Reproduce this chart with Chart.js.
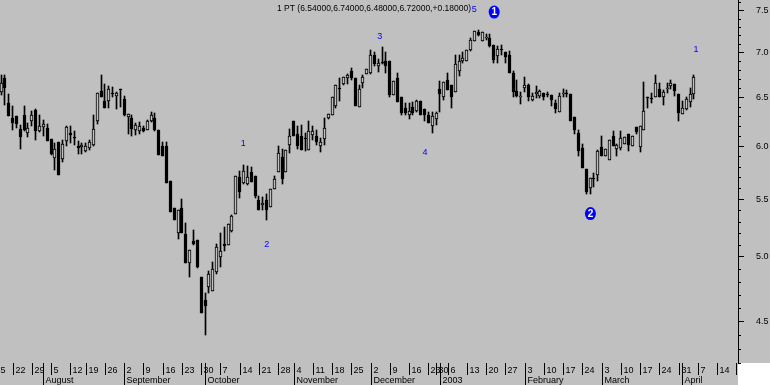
<!DOCTYPE html>
<html>
<head>
<meta charset="utf-8">
<title>PT</title>
<script src="https://cdn.jsdelivr.net/npm/chart.js@4.4.0/dist/chart.umd.min.js"></script>
<style>
  html, body { margin: 0; padding: 0; background: #c0c0c0; }
  canvas { display: block; }
</style>
</head>
<body>
<canvas id="chart" width="770" height="385"></canvas>
<script>
// daily candles, first one is 2002-07-17
const open = [
  6.56, 6.71, 6.44, 6.28, 6.30, 6.17, 6.32, 6.13, 6.25, 6.37,
  6.15, 6.19, 6.18, 6.07, 5.88, 6.04, 5.87, 6.05, 6.13, 6.09,
  6.00, 5.99, 5.95, 5.98, 6.01, 6.25, 6.57, 6.46, 6.46, 6.54,
  6.52, 6.58, 6.48, 6.29, 6.28, 6.16, 6.15, 6.18, 6.16, 6.25,
  6.28, 6.16, 6.00, 6.00, 5.67, 5.42, 5.20, 5.42, 5.19, 4.95,
  5.13, 5.14, 4.84, 4.66, 4.76, 4.73, 4.88, 5.00, 5.11, 5.10,
  5.22, 5.37, 5.70, 5.65, 5.64, 5.75, 5.71, 5.49, 5.45, 5.49,
  5.43, 5.59, 5.75, 5.89, 5.75, 6.01, 6.25, 6.12, 6.10, 6.08,
  5.96, 6.11, 6.10, 6.00, 6.07, 6.28, 6.32, 6.41, 6.60, 6.65,
  6.71, 6.79, 6.71, 6.40, 6.66, 6.76, 6.77, 6.97, 6.85, 6.88,
  6.90, 6.90, 6.53, 6.71, 6.51, 6.39, 6.31, 6.40, 6.36, 6.46,
  6.38, 6.31, 6.20, 6.27, 6.59, 6.50, 6.69, 6.64, 6.56, 6.79,
  6.90, 6.90, 7.03, 7.13, 7.24, 7.13, 7.17, 7.17, 7.09, 6.96,
  7.04, 7.00, 6.97, 6.77, 6.57, 6.50, 6.60, 6.64, 6.47, 6.54,
  6.52, 6.55, 6.54, 6.53, 6.44, 6.35, 6.54, 6.55, 6.54, 6.29,
  6.13, 5.98, 5.78, 5.60, 5.69, 5.72, 5.99, 5.90, 5.86, 6.10,
  5.97, 5.98, 6.02, 6.12, 6.00, 6.19, 5.99, 6.16, 6.49, 6.48,
  6.51, 6.59, 6.51, 6.59, 6.62, 6.65, 6.54, 6.33, 6.38, 6.45,
  6.54
];
const high = [
  6.74, 6.75, 6.54, 6.41, 6.30, 6.21, 6.41, 6.23, 6.36, 6.38,
  6.31, 6.26, 6.22, 6.07, 6.03, 6.04, 6.06, 6.20, 6.20, 6.15,
  6.05, 6.03, 6.03, 6.06, 6.32, 6.55, 6.74, 6.65, 6.62, 6.61,
  6.56, 6.59, 6.52, 6.33, 6.32, 6.23, 6.24, 6.20, 6.26, 6.35,
  6.34, 6.16, 6.04, 6.04, 5.67, 5.42, 5.40, 5.50, 5.29, 5.06,
  5.23, 5.14, 4.84, 4.71, 4.89, 4.96, 5.11, 5.20, 5.25, 5.28,
  5.36, 5.71, 5.76, 5.82, 5.81, 5.80, 5.71, 5.53, 5.52, 5.55,
  5.59, 5.71, 6.00, 5.97, 5.96, 6.17, 6.25, 6.20, 6.21, 6.13,
  6.25, 6.20, 6.16, 6.08, 6.28, 6.33, 6.50, 6.63, 6.71, 6.72,
  6.76, 6.82, 6.71, 6.64, 6.75, 6.81, 7.03, 7.00, 6.92, 7.06,
  7.00, 6.90, 6.68, 6.77, 6.51, 6.44, 6.44, 6.45, 6.47, 6.46,
  6.38, 6.35, 6.35, 6.35, 6.68, 6.67, 6.77, 6.64, 6.97, 6.97,
  7.00, 7.03, 7.17, 7.25, 7.26, 7.24, 7.22, 7.22, 7.09, 7.07,
  7.09, 7.01, 7.02, 6.79, 6.69, 6.56, 6.72, 6.65, 6.55, 6.62,
  6.58, 6.55, 6.56, 6.53, 6.47, 6.55, 6.59, 6.58, 6.54, 6.29,
  6.16, 6.02, 5.78, 5.69, 5.74, 5.96, 6.10, 5.97, 6.06, 6.15,
  6.02, 6.15, 6.09, 6.12, 6.10, 6.19, 6.20, 6.67, 6.51, 6.55,
  6.74, 6.66, 6.58, 6.66, 6.69, 6.65, 6.54, 6.46, 6.50, 6.60,
  6.74
];
const low = [
  6.53, 6.42, 6.30, 6.16, 6.18, 5.97, 6.15, 6.09, 6.20, 6.06,
  6.14, 6.10, 6.05, 5.91, 5.77, 5.72, 5.85, 6.00, 6.03, 6.01,
  5.92, 5.92, 5.94, 5.96, 6.00, 6.22, 6.50, 6.39, 6.39, 6.50,
  6.38, 6.40, 6.30, 6.12, 6.10, 6.11, 6.12, 6.14, 6.16, 6.24,
  6.15, 5.91, 5.90, 5.65, 5.38, 5.31, 5.15, 5.20, 4.95, 4.84,
  5.10, 4.91, 4.56, 4.40, 4.71, 4.73, 4.86, 4.92, 5.05, 5.10,
  5.21, 5.37, 5.51, 5.64, 5.63, 5.66, 5.51, 5.40, 5.40, 5.31,
  5.43, 5.59, 5.75, 5.64, 5.75, 5.93, 6.10, 5.97, 5.96, 5.95,
  5.96, 6.06, 6.01, 5.94, 6.01, 6.27, 6.32, 6.39, 6.46, 6.63,
  6.65, 6.69, 6.41, 6.40, 6.60, 6.76, 6.76, 6.84, 6.78, 6.87,
  6.77, 6.50, 6.53, 6.45, 6.32, 6.32, 6.27, 6.32, 6.35, 6.31,
  6.25, 6.23, 6.13, 6.21, 6.35, 6.47, 6.58, 6.39, 6.56, 6.73,
  6.88, 6.90, 7.02, 7.13, 7.19, 7.13, 7.14, 7.06, 6.88, 6.88,
  6.97, 6.88, 6.77, 6.51, 6.50, 6.43, 6.56, 6.46, 6.46, 6.49,
  6.49, 6.47, 6.51, 6.41, 6.34, 6.35, 6.51, 6.51, 6.25, 6.12,
  5.90, 5.79, 5.55, 5.55, 5.61, 5.67, 5.90, 5.90, 5.86, 6.00,
  5.90, 5.96, 6.02, 5.95, 6.00, 6.12, 5.94, 6.16, 6.39, 6.44,
  6.50, 6.50, 6.42, 6.55, 6.59, 6.52, 6.25, 6.33, 6.37, 6.40,
  6.48
];
const close = [
  6.66, 6.60, 6.30, 6.23, 6.22, 6.09, 6.16, 6.18, 6.32, 6.15,
  6.20, 6.22, 6.05, 5.92, 5.97, 5.72, 6.02, 6.19, 6.11, 6.08,
  5.98, 6.01, 6.00, 6.04, 6.17, 6.55, 6.50, 6.39, 6.59, 6.54,
  6.55, 6.58, 6.31, 6.33, 6.17, 6.21, 6.20, 6.15, 6.25, 6.31,
  6.16, 5.91, 5.90, 5.65, 5.38, 5.31, 5.40, 5.20, 4.95, 5.06,
  5.11, 4.92, 4.56, 4.61, 4.86, 4.90, 5.08, 5.05, 5.09, 5.28,
  5.35, 5.71, 5.56, 5.76, 5.70, 5.66, 5.53, 5.40, 5.46, 5.40,
  5.59, 5.68, 5.93, 5.68, 5.96, 6.10, 6.10, 6.00, 5.96, 6.07,
  6.15, 6.15, 6.04, 6.04, 6.18, 6.33, 6.50, 6.63, 6.59, 6.72,
  6.75, 6.71, 6.41, 6.59, 6.72, 6.81, 6.97, 6.87, 6.88, 6.88,
  6.84, 6.53, 6.68, 6.45, 6.34, 6.34, 6.36, 6.34, 6.46, 6.31,
  6.32, 6.23, 6.30, 6.34, 6.54, 6.67, 6.58, 6.50, 6.87, 6.90,
  6.94, 7.03, 7.15, 7.25, 7.20, 7.24, 7.18, 7.07, 6.91, 7.04,
  7.03, 6.95, 6.77, 6.56, 6.52, 6.52, 6.64, 6.50, 6.52, 6.56,
  6.57, 6.51, 6.53, 6.47, 6.38, 6.52, 6.55, 6.54, 6.25, 6.16,
  5.95, 5.79, 5.56, 5.69, 5.68, 5.95, 5.90, 5.97, 6.06, 6.00,
  6.01, 6.08, 6.09, 6.01, 6.10, 6.14, 6.20, 6.36, 6.49, 6.48,
  6.66, 6.51, 6.56, 6.60, 6.66, 6.57, 6.34, 6.39, 6.48, 6.54,
  6.72
];

// trading calendar (exchange closed on these weekdays)
const holidays = ['2002-08-15', '2002-11-01', '2002-12-24', '2002-12-25', '2002-12-26', '2002-12-31', '2003-01-01'];
const calStart = '2002-07-15';
const calEnd = '2003-04-25';
const firstDay = '2002-07-17';
const monthNames = ['2003', 'February', 'March', 'April', 'May', 'June', 'July', 'August', 'September', 'October', 'November', 'December'];

// y axis
const yMin = 4.20;
const yMax = 7.63;
const yMajor = [4.5, 5.0, 5.5, 6.0, 6.5, 7.0, 7.5];
const yMinor = [4.2, 4.3, 4.4, 4.6, 4.7, 4.8, 4.9, 5.1, 5.2, 5.3, 5.4, 5.6, 5.7, 5.8, 5.9,
  6.1, 6.2, 6.3, 6.4, 6.6, 6.7, 6.8, 6.9, 7.1, 7.2, 7.3, 7.4, 7.6];

// wave counts written on the chart
const waveText = ['1', '2', '3', '4', '5', '1'];
const waveIdx = [62.9, 69.0, 98.4, 110.1, 122.9, 180.5];
const wavePrice = [6.03, 5.10, 7.19, 5.94, 7.51, 7.03];
const circleText = ['1', '2'];
const circleIdx = [128.1, 153.1];
const circlePrice = [7.48, 5.37];

const GREY = '#c0c0c0';
const BLUE = '#0000ff';

// build calendar
function iso(d) { return d.toISOString().slice(0, 10); }
const cal = [];
for (let d = new Date(calStart + 'T00:00:00Z'); iso(d) <= calEnd; d.setUTCDate(d.getUTCDate() + 1)) {
  const dow = d.getUTCDay();
  if (dow > 0 && dow < 6 && holidays.indexOf(iso(d)) < 0) cal.push(iso(d));
}
const off = cal.indexOf(firstDay);
const dates = cal.slice(off, off + close.length);

const weekTicks = [];
const monthTicks = [];
cal.forEach((s, i) => {
  const d = new Date(s + 'T00:00:00Z');
  if (d.getUTCDay() === 1) weekTicks.push({ idx: i - off, label: String(d.getUTCDate()) });
  if (i > 0 && s.slice(5, 7) !== cal[i - 1].slice(5, 7)) {
    monthTicks.push({ idx: i - off, label: monthNames[d.getUTCMonth()] });
  }
});

const wicks = dates.map((s, i) => ({ x: i, y: [low[i], high[i]] }));
const bodies = dates.map((s, i) => ({ x: i, y: [Math.min(open[i], close[i]), Math.max(open[i], close[i])] }));

Chart.defaults.font.family = '"Liberation Sans", Arial, sans-serif';

// put every candle on whole pixels so wicks and borders stay sharp
const snap = {
  id: 'snap',
  beforeDatasetsDraw(chart) {
    chart.data.datasets.forEach((ds, i) => {
      chart.getDatasetMeta(i).data.forEach(el => {
        el.x = Math.round(el.x - 0.5) + 0.5;
        let top = Math.round(Math.min(el.y, el.base));
        let bot = Math.round(Math.max(el.y, el.base));
        if (bot - top < 1) bot = top + 1;
        el.y = top;
        el.base = bot;
      });
    });
  }
};

const deco = {
  id: 'deco',
  beforeDraw(chart) {
    const { ctx, chartArea: a, width, height } = chart;
    ctx.save();
    ctx.fillStyle = GREY;
    ctx.fillRect(0, 0, width, height);
    ctx.fillStyle = '#fff';
    ctx.fillRect(a.right, a.bottom, width - a.right, height - a.bottom);
    ctx.restore();
  },
  afterDraw(chart) {
    const { ctx, chartArea: a, height } = chart;
    const x = chart.scales.x, y = chart.scales.y;
    ctx.save();
    ctx.strokeStyle = '#000';
    ctx.lineWidth = 1;

    // minor ticks of the price axis
    ctx.beginPath();
    yMinor.forEach(v => {
      const py = Math.round(y.getPixelForValue(v)) + 0.5;
      ctx.moveTo(a.right, py);
      ctx.lineTo(a.right + 3, py);
    });
    ctx.stroke();

    // date strip
    ctx.save();
    ctx.beginPath();
    ctx.rect(a.left, a.bottom, a.right - a.left, height - a.bottom);
    ctx.clip();
    ctx.fillStyle = '#000';
    ctx.font = '9px "Liberation Sans", Arial, sans-serif';
    ctx.textBaseline = 'alphabetic';
    const row = a.bottom + 12;
    ctx.beginPath();
    weekTicks.forEach(t => {
      const px = Math.round(x.getPixelForValue(t.idx)) + 0.5;
      ctx.moveTo(px, a.bottom);
      ctx.lineTo(px, row);
      ctx.fillText(t.label, px + 2, a.bottom + 10);
    });
    monthTicks.forEach(t => {
      const px = Math.round(x.getPixelForValue(t.idx)) + 0.5;
      ctx.moveTo(px, a.bottom);
      ctx.lineTo(px, height);
      ctx.fillText(t.label, px + 2, height - 2);
    });
    ctx.stroke();
    ctx.restore();

    // wave labels
    ctx.fillStyle = BLUE;
    ctx.font = '9px "Liberation Sans", Arial, sans-serif';
    ctx.textAlign = 'center';
    ctx.textBaseline = 'middle';
    waveText.forEach((t, i) => {
      ctx.fillText(t, x.getPixelForValue(waveIdx[i]), y.getPixelForValue(wavePrice[i]));
    });
    circleText.forEach((t, i) => {
      const cx = x.getPixelForValue(circleIdx[i]);
      const cy = y.getPixelForValue(circlePrice[i]);
      ctx.fillStyle = BLUE;
      ctx.beginPath();
      ctx.ellipse(cx, cy, 5.5, 6.5, 0, 0, Math.PI * 2);
      ctx.fill();
      ctx.fillStyle = '#fff';
      ctx.font = 'bold 10px "Liberation Sans", Arial, sans-serif';
      ctx.fillText(t, cx, cy + 0.5);
    });

    // header line with the last bar
    const n = close.length - 1;
    const chg = close[n] - close[n - 1];
    const head = '1 PT (' + [open[n], high[n], low[n], close[n]].map(v => v.toFixed(5)).join(',') +
      ',' + (chg >= 0 ? '+' : '') + chg.toFixed(5) + ')';
    ctx.fillStyle = '#000';
    ctx.font = '9px "Liberation Sans", Arial, sans-serif';
    ctx.textAlign = 'center';
    ctx.textBaseline = 'alphabetic';
    ctx.fillText(head, (a.left + a.right) / 2 + 5, a.top + 11, 194);
    ctx.restore();
  }
};

new Chart(document.getElementById('chart'), {
  type: 'bar',
  data: {
    datasets: [
      {
        data: wicks,
        barThickness: 1,
        backgroundColor: '#000',
        borderWidth: 0,
        order: 2
      },
      {
        data: bodies,
        barThickness: 3,
        minBarLength: 1,
        backgroundColor: c => close[c.dataIndex] > open[c.dataIndex] + 0.005 ? GREY : '#000',
        borderColor: '#000',
        borderWidth: 1,
        borderSkipped: false,
        order: 1
      }
    ]
  },
  options: {
    responsive: false,
    animation: false,
    events: [],
    layout: { padding: { left: 0, right: 0, top: 0, bottom: 22 } },
    datasets: { bar: { grouped: false } },
    plugins: { legend: { display: false }, tooltip: { enabled: false } },
    scales: {
      x: {
        type: 'linear',
        display: false,
        offset: false,
        min: -0.26,
        max: 191.43
      },
      y: {
        type: 'logarithmic',
        position: 'right',
        bounds: 'data',
        min: yMin,
        max: yMax,
        afterBuildTicks: s => { s.ticks = yMajor.map(v => ({ value: v })); },
        afterFit: s => { s.width = 32; s.paddingTop = 0; s.paddingBottom = 0; },
        grid: { drawOnChartArea: false, drawTicks: true, tickLength: 6, color: '#000', tickColor: '#000' },
        border: { display: true, color: '#000', width: 1 },
        ticks: {
          autoSkip: false,
          color: '#000',
          padding: 12,
          font: { size: 9 },
          callback: v => Number(v).toFixed(1)
        }
      }
    }
  },
  plugins: [snap, deco]
});
</script>
</body>
</html>
